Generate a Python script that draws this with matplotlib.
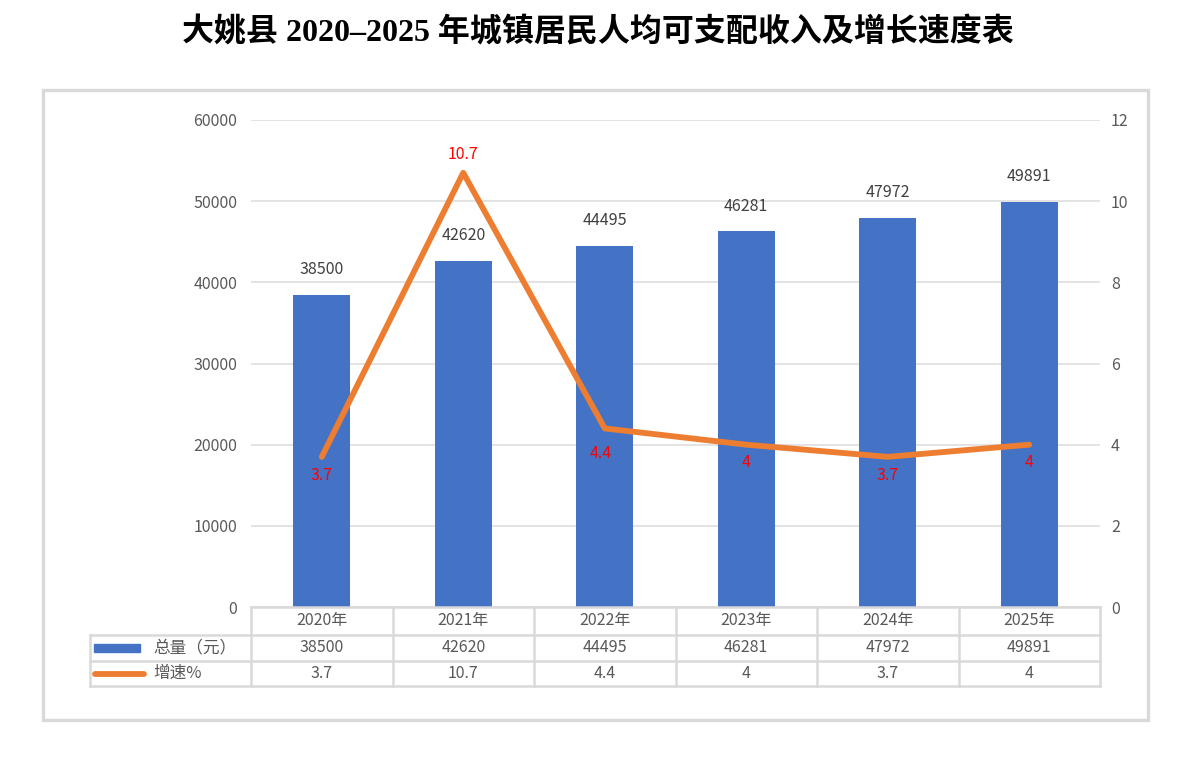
import matplotlib
matplotlib.use("Agg")
import matplotlib.pyplot as plt
from matplotlib.patches import Rectangle
from matplotlib.lines import Line2D

plt.rcParams['font.family'] = ['Noto Sans CJK SC', 'DejaVu Sans']

years = ["2020年", "2021年", "2022年", "2023年", "2024年", "2025年"]
income = [38500, 42620, 44495, 46281, 47972, 49891]
growth = [3.7, 10.7, 4.4, 4, 3.7, 4]
growth_txt = ["3.7", "10.7", "4.4", "4", "3.7", "4"]
s_income = "总量（元）"
s_growth = "增速%"
title = "大姚县 2020–2025 年城镇居民人均可支配收入及增长速度表"

blue = "#4472C4"
orange = "#ED7D31"
grid = "#d9d9d9"
txt = "#595959"

fig = plt.figure(figsize=(11.96, 7.57), dpi=100)
fig.patches.append(Rectangle((43 / 1196, 37 / 757), 1105 / 1196, 630 / 757,
                             transform=fig.transFigure, fill=False,
                             edgecolor=grid, linewidth=2.4))
fig.text(0.5, 1 - 33 / 757, title, ha="center", va="center", fontsize=23,
         fontweight="bold", family=['Liberation Serif', 'Noto Sans CJK SC'])

ax = fig.add_axes([251 / 1196, 150 / 757, 849 / 1196, 487 / 757])
ax2 = ax.twinx()
x = list(range(len(years)))

ax.bar(x, income, width=0.4, color=blue, zorder=2)
ax.set_xlim(-0.5, 5.5)
ax.set_ylim(0, 60000)
ax.set_yticks(range(0, 60001, 10000))
ax.grid(axis="y", color="#e0e0e0", linewidth=1.3, zorder=0)
ax.set_axisbelow(True)
for i, v in enumerate(income):
    ax.annotate(str(v), (i, v), xytext=(0, 12), textcoords="offset points",
                ha="center", va="bottom", fontsize=11.5, color="#404040")

ax2.plot(x, growth, color=orange, linewidth=4.2, solid_capstyle="round",
         solid_joinstyle="round", zorder=3)
ax2.set_ylim(0, 12)
ax2.set_yticks(range(0, 13, 2))
for i, v in enumerate(growth):
    dy = 7 if i == 1 else -7
    if i == 2:
        dy = -12
    ax2.annotate(growth_txt[i], (i, v), xytext=(-3 if i == 2 else 0, dy),
                 textcoords="offset points", ha="center",
                 va="bottom" if dy > 0 else "top", fontsize=11.5, color="#FF0000")

for a in (ax, ax2):
    for sp in a.spines.values():
        sp.set_visible(False)
    a.tick_params(length=0, labelsize=11.5, labelcolor=txt)
    a.set_xticks([])
ax.tick_params(axis="y", pad=10)
ax2.tick_params(axis="y", pad=8)

# data table under the plot
tr = ax.get_xaxis_transform()
rows = [0, -28 / 487, -54 / 487, -79 / 487]
left = -0.5 - 161 / 141.5
lk = dict(color=grid, linewidth=1.8, transform=tr, clip_on=False)
ax.add_line(Line2D([-0.5, 5.5], [rows[0], rows[0]], **lk))
for r in rows[1:]:
    ax.add_line(Line2D([left, 5.5], [r, r], **lk))
ax.add_line(Line2D([left, left], [rows[1], rows[3]], **lk))
for k in range(len(years) + 1):
    ax.add_line(Line2D([k - 0.5, k - 0.5], [rows[0], rows[3]], **lk))

for i in x:
    ax.text(i, (rows[0] + rows[1]) / 2, years[i], transform=tr, ha="center",
            va="center", fontsize=11.5, color=txt)
    ax.text(i, (rows[1] + rows[2]) / 2, str(income[i]), transform=tr,
            ha="center", va="center", fontsize=11.5, color=txt)
    ax.text(i, (rows[2] + rows[3]) / 2, growth_txt[i], transform=tr,
            ha="center", va="center", fontsize=11.5, color=txt)

ax.add_patch(Rectangle((left + 4 / 141.5, -45 / 487), 46 / 141.5, 8 / 487,
                       transform=tr, clip_on=False, color=blue))
ax.add_line(Line2D([left + 5 / 141.5, left + 54 / 141.5], [-67 / 487, -67 / 487],
                   color=orange, linewidth=4.2, solid_capstyle="round",
                   transform=tr, clip_on=False))
ax.text(left + 63 / 141.5, (rows[1] + rows[2]) / 2, s_income, transform=tr,
        ha="left", va="center", fontsize=12, color=txt)
ax.text(left + 63 / 141.5, (rows[2] + rows[3]) / 2, s_growth, transform=tr,
        ha="left", va="center", fontsize=12, color=txt)

fig.savefig("out.png", dpi=100)
